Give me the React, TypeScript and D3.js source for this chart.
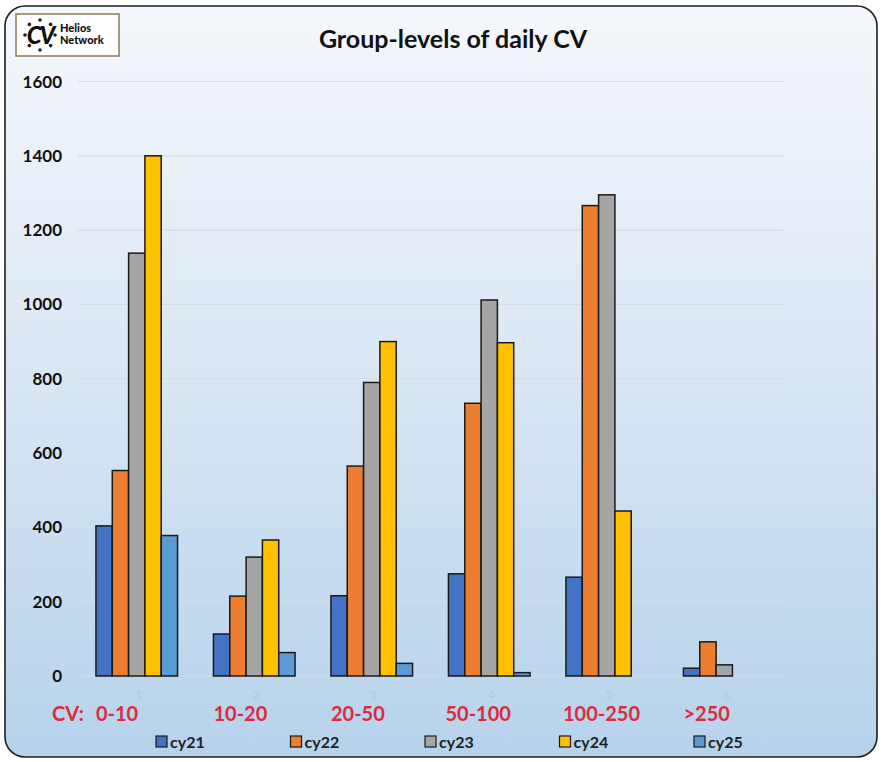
import * as d3 from "d3";

const groups = ["0-10", "10-20", "20-50", "50-100", "100-250", ">250"];
const groupNums = ["1", "2", "3", "4", "5", "6"];
const seriesNames = ["cy21", "cy22", "cy23", "cy24", "cy25"];
const colors = ["#4472C4", "#ED7D31", "#A5A5A5", "#FFC000", "#5B9BD5"];

const cy21 = [404, 113, 216, 275, 266, 21];
const cy22 = [553, 215, 565, 734, 1266, 92];
const cy23 = [1138, 320, 790, 1012, 1295, 30];
const cy24 = [1400, 366, 900, 897, 444, 0];
const cy25 = [378, 63, 34, 9, 0, 0];

const yTicks = [0, 200, 400, 600, 800, 1000, 1200, 1400, 1600];

const W = 881;
const H = 762;
const FONT = "Lato, 'Open Sans', sans-serif";

export default function App() {
  const series = [cy21, cy22, cy23, cy24, cy25];

  const x0 = d3.scaleBand().domain(groups).range([78, 783]);
  const x1 = d3
    .scaleBand()
    .domain(seriesNames)
    .range([0, x0.bandwidth()])
    .paddingOuter(1.1);
  const y = d3.scaleLinear().domain([0, 1600]).range([676, 81.5]);

  const legendX = d3.scalePoint().domain(seriesNames).range([156, 694]);

  const rayAngles = d3.range(0, 360, 45);

  return (
    <svg
      width={W}
      height={H}
      style={{ position: "absolute", left: 0, top: 0, fontFamily: FONT }}
    >
      <defs>
        <linearGradient id="bg" x1="0" y1="0" x2="0" y2="1">
          <stop offset="0" stopColor="#f5f8fc" />
          <stop offset="0.45" stopColor="#dce8f5" />
          <stop offset="1" stopColor="#b6d2eb" />
        </linearGradient>
      </defs>
      <rect width={W} height={H} fill="#ffffff" />
      <rect
        x={5}
        y={6}
        width={872}
        height={751}
        rx={20}
        fill="url(#bg)"
        stroke="#1e1e1e"
        strokeWidth={1.6}
      />

      {/* logo */}
      <g>
        <rect x={16} y={14} width={103} height={42} fill="#ffffff" stroke="#8a7a55" strokeWidth={1.5} />
        {rayAngles.map((a) => {
          const rad = (a * Math.PI) / 180;
          return (
            <circle key={a} cx={40 + 15 * Math.cos(rad)} cy={35 + 15 * Math.sin(rad)} r={1.8} fill="#222" />
          );
        })}
        <text x={40} y={44} textAnchor="middle" fontSize={24} fontWeight={900} fontStyle="italic" fill="#111" letterSpacing={-2}>
          CV
        </text>
        <text x={60} y={32} fontSize={11} fontWeight={900} fill="#111">
          Helios
        </text>
        <text x={60} y={44} fontSize={11} fontWeight={900} fill="#111">
          Network
        </text>
      </g>

      {/* title */}
      <text x={453} y={48} textAnchor="middle" fontSize={25} fontWeight={700} fill="#111">
        Group-levels of daily CV
      </text>

      {/* gridlines */}
      {yTicks.map((t) => (
        <line key={t} x1={78} x2={783} y1={y(t)} y2={y(t)} stroke="#d6dce2" strokeWidth={1.2} />
      ))}

      {/* y tick labels */}
      {yTicks.map((t) => (
        <text key={t} x={62} y={y(t) + 6} textAnchor="end" fontSize={17} fontWeight={700} fill="#111">
          {t}
        </text>
      ))}

      {/* bars */}
      {groups.map((g, gi) => (
        <g key={g} transform={`translate(${x0(g)},0)`}>
          {seriesNames.map((s, si) => {
            const v = series[si][gi];
            if (!v) return null;
            return (
              <rect
                key={s}
                x={x1(s)}
                y={y(v)}
                width={x1.bandwidth()}
                height={y(0) - y(v)}
                fill={colors[si]}
                stroke="#1a1a1a"
                strokeWidth={1.5}
              />
            );
          })}
        </g>
      ))}

      {/* faint category numbers */}
      {groups.map((g, gi) => (
        <text
          key={g}
          x={(x0(g) as number) + x0.bandwidth() / 2 + 2}
          y={699}
          textAnchor="middle"
          fontSize={12}
          fill="#a8cbea"
        >
          {groupNums[gi]}
        </text>
      ))}

      {/* red CV labels */}
      <text x={52} y={721} fontSize={20} fontWeight={700} fill="#dc2b3c">
        CV:
      </text>
      {groups.map((g) => (
        <text
          key={g}
          x={(x0(g) as number) + (x1(seriesNames[0]) as number) - (g.length > 5 ? 3 : 0)}
          y={721}
          fontSize={20}
          fontWeight={700}
          fill="#dc2b3c"
        >
          {g}
        </text>
      ))}

      {/* legend */}
      {seriesNames.map((s, si) => (
        <g key={s} transform={`translate(${legendX(s)},736)`}>
          <rect x={0} y={0} width={11} height={11} fill={colors[si]} stroke="#1a1a1a" strokeWidth={1.2} />
          <text x={14} y={11.5} fontSize={16} fontWeight={700} fill="#222">
            {s}
          </text>
        </g>
      ))}
    </svg>
  );
}
